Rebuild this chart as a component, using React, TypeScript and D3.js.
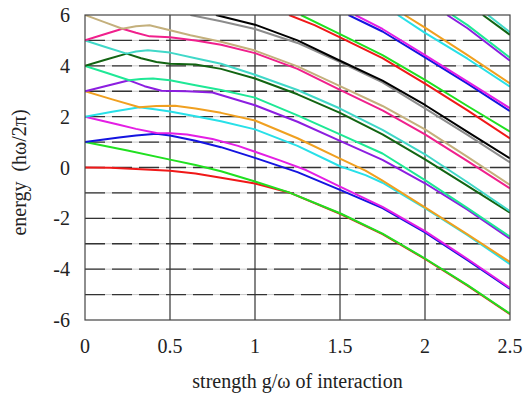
import React from 'react';
import * as d3 from 'd3';

// energy levels: [g/ω, energy]
const red0 = [[0, 0], [0.15, -0.01], [0.3, -0.06], [0.5, -0.13], [0.65, -0.24], [0.8, -0.4], [1.0, -0.63], [1.2, -0.98], [1.5, -1.82], [1.75, -2.62], [2.0, -3.6], [2.25, -4.65], [2.5, -5.77]];
const green1 = [[0, 1], [0.25, 0.67], [0.5, 0.31], [0.65, 0.1], [0.8, -0.15], [1.0, -0.55], [1.2, -0.98], [1.5, -1.8], [1.75, -2.6], [2.0, -3.58], [2.25, -4.63], [2.5, -5.75]];
const blue2 = [[0, 1], [0.1, 1.09], [0.2, 1.18], [0.3, 1.26], [0.42, 1.33], [0.5, 1.26], [0.65, 1.05], [0.8, 0.8], [1.0, 0.38], [1.25, -0.18], [1.5, -0.88], [1.75, -1.6], [2.0, -2.55], [2.25, -3.65], [2.5, -4.78]];
const magenta3 = [[0, 2], [0.1, 1.84], [0.2, 1.68], [0.3, 1.52], [0.42, 1.36], [0.5, 1.35], [0.6, 1.3], [0.75, 1.12], [0.9, 0.85], [1.0, 0.62], [1.15, 0.27], [1.3, -0.1], [1.5, -0.75], [1.75, -1.55], [2.0, -2.5], [2.25, -3.6], [2.5, -4.74]];
const cyan4 = [[0, 2], [0.16, 2.19], [0.32, 2.37], [0.42, 2.28], [0.5, 2.2], [0.65, 2.02], [0.8, 1.82], [1.0, 1.5], [1.25, 0.85], [1.5, 0.05], [1.65, -0.3], [1.75, -0.6], [2.0, -1.6], [2.25, -2.66], [2.5, -3.8]];
const orange5 = [[0, 3], [0.16, 2.68], [0.32, 2.37], [0.42, 2.42], [0.53, 2.43], [0.65, 2.32], [0.8, 2.15], [1.0, 1.85], [1.25, 1.15], [1.5, 0.35], [1.65, -0.12], [1.75, -0.52], [2.0, -1.57], [2.25, -2.63], [2.5, -3.72]];
const purple6 = [[0, 3], [0.13, 3.22], [0.26, 3.43], [0.35, 3.2], [0.45, 3.02], [0.6, 3.0], [0.75, 2.95], [1.0, 2.45], [1.25, 1.8], [1.5, 1.05], [1.75, 0.3], [2.0, -0.62], [2.25, -1.66], [2.5, -2.8]];
const spring7 = [[0, 4], [0.13, 3.72], [0.26, 3.43], [0.33, 3.48], [0.4, 3.5], [0.5, 3.43], [0.65, 3.24], [0.8, 3.05], [1.0, 2.75], [1.25, 2.05], [1.5, 1.3], [1.75, 0.55], [2.0, -0.5], [2.25, -1.6], [2.5, -2.72]];
const dkgreen8 = [[0, 4], [0.12, 4.24], [0.245, 4.48], [0.33, 4.3], [0.42, 4.15], [0.5, 4.08], [0.65, 4.05], [0.8, 3.88], [1.0, 3.5], [1.25, 2.88], [1.5, 2.15], [1.75, 1.3], [2.0, 0.32], [2.25, -0.72], [2.5, -1.78]];
const turq9 = [[0, 5], [0.12, 4.74], [0.245, 4.48], [0.3, 4.56], [0.37, 4.61], [0.5, 4.52], [0.65, 4.3], [0.8, 4.08], [1.0, 3.65], [1.25, 3.05], [1.5, 2.32], [1.75, 1.48], [2.0, 0.52], [2.25, -0.58], [2.5, -1.72]];
const pink10 = [[0, 5], [0.11, 5.23], [0.22, 5.46], [0.3, 5.3], [0.38, 5.16], [0.5, 5.12], [0.65, 5.0], [0.8, 4.83], [1.0, 4.5], [1.25, 3.88], [1.5, 3.05], [1.75, 2.25], [2.0, 1.3], [2.25, 0.25], [2.5, -0.82]];
const tan11 = [[0, 6], [0.11, 5.73], [0.22, 5.46], [0.3, 5.56], [0.38, 5.6], [0.5, 5.4], [0.62, 5.2], [0.8, 4.95], [1.0, 4.6], [1.25, 3.98], [1.5, 3.2], [1.75, 2.42], [2.0, 1.5], [2.25, 0.42], [2.5, -0.69]];
const grey12 = [[0.62, 6], [0.8, 5.75], [1.0, 5.45], [1.25, 4.9], [1.5, 4.15], [1.75, 3.35], [2.0, 2.33], [2.25, 1.28], [2.5, 0.2]];
const black13 = [[0.77, 6], [1.0, 5.62], [1.25, 5.0], [1.5, 4.2], [1.75, 3.42], [2.0, 2.46], [2.25, 1.4], [2.5, 0.36]];
const red14 = [[1.2, 6], [1.35, 5.6], [1.5, 5.12], [1.75, 4.3], [2.0, 3.3], [2.25, 2.25], [2.5, 1.14]];
const green15 = [[1.27, 6], [1.5, 5.25], [1.75, 4.42], [2.0, 3.45], [2.25, 2.42], [2.5, 1.41]];
const blue16 = [[1.55, 6], [1.75, 5.35], [2.0, 4.33], [2.25, 3.3], [2.5, 2.22]];
const magenta17 = [[1.59, 6], [1.75, 5.45], [2.0, 4.42], [2.25, 3.38], [2.5, 2.33]];
const cyan18 = [[1.84, 6], [2.0, 5.3], [2.25, 4.28], [2.5, 3.18]];
const orange19 = [[1.88, 6], [2.0, 5.5], [2.25, 4.42], [2.5, 3.31]];
const purple20 = [[2.13, 6], [2.25, 5.48], [2.5, 4.2]];
const spring21 = [[2.16, 6], [2.25, 5.6], [2.5, 4.32]];
const dkgreen22 = [[2.34, 6], [2.5, 5.22]];
const turq23 = [[2.37, 6], [2.5, 5.32]];

const levels = [red0, green1, blue2, magenta3, cyan4, orange5, purple6, spring7, dkgreen8, turq9, pink10, tan11,
  grey12, black13, red14, green15, blue16, magenta17, cyan18, orange19, purple20, spring21, dkgreen22, turq23];

const xTicks = [0, 0.5, 1, 1.5, 2, 2.5];
const yTicks = [-6, -4, -2, 0, 2, 4, 6];
const yGrid = [-5, -4, -3, -2, -1, 0, 1, 2, 3, 4, 5];
const xGrid = [0.5, 1, 1.5, 2];

const palette = ['#f01818', '#20e020', '#1414e0', '#e41ee4', '#28e0e8', '#f0a020', '#8c1ee0', '#1ee896',
  '#126412', '#40d8c8', '#f0208c', '#c4b07c', '#8c8c8c', '#000000'];

const width = 531;
const height = 396;
const margin = { top: 15, right: 21, bottom: 76, left: 85 };

const App: React.FC = () => {
  const x = d3.scaleLinear().domain([0, 2.5]).range([margin.left, width - margin.right]);
  const y = d3.scaleLinear().domain([-6, 6]).range([height - margin.bottom, margin.top]);
  const line = d3.line<number[]>().x(d => x(d[0])).y(d => y(d[1]));
  const font = '"Liberation Serif", "DejaVu Serif", serif';

  return (
    <svg width={width} height={height} style={{ position: 'absolute', left: 0, top: 0, background: '#fff' }}>
      <defs>
        <clipPath id="plot">
          <rect x={margin.left} y={margin.top} width={width - margin.left - margin.right} height={height - margin.top - margin.bottom} />
        </clipPath>
      </defs>

      {/* grid */}
      {yGrid.map(v => (
        <g key={'h' + v}>
          <line x1={x(0)} x2={x(2.5)} y1={y(v)} y2={y(v)} stroke="#c8c8c8" strokeWidth={1} />
          <line x1={x(0)} x2={x(2.5)} y1={y(v)} y2={y(v)} stroke="#333" strokeWidth={1.3} strokeDasharray="20,7" />
        </g>
      ))}
      {xGrid.map(v => (
        <line key={'v' + v} x1={x(v)} x2={x(v)} y1={y(-6)} y2={y(6)} stroke="#333" strokeWidth={1.2} />
      ))}

      {/* curves */}
      <g clipPath="url(#plot)" fill="none" strokeWidth={2} strokeLinejoin="round">
        {levels.map((pts, i) => (
          <path key={i} d={line(pts) || ''} stroke={palette[i % palette.length]} />
        ))}
      </g>

      <rect x={x(0)} y={y(6)} width={x(2.5) - x(0)} height={y(-6) - y(6)} fill="none" stroke="#444" strokeWidth={1.2} />

      {/* tick labels */}
      <g fontFamily={font} fontSize={20} fill="#222">
        {yTicks.map(v => (
          <text key={'y' + v} x={x(0) - 15} y={y(v)} dy="0.35em" textAnchor="end">{v}</text>
        ))}
        {xTicks.map(v => (
          <text key={'x' + v} x={x(v)} y={353} textAnchor="middle">{v}</text>
        ))}
        <text x={(x(0) + x(2.5)) / 2} y={388} textAnchor="middle">strength g/ω of interaction</text>
        <text transform={`translate(26,${y(0) + 5}) rotate(-90)`} textAnchor="middle" xmlSpace="preserve">energy  (hω/2π)</text>
      </g>
    </svg>
  );
};

export default App;
